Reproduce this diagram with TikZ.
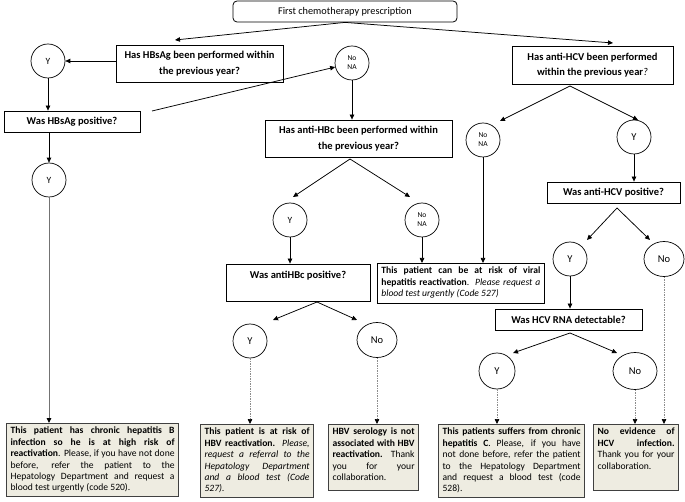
\documentclass[tikz,border=0pt]{standalone}
\usepackage{fontspec}
\setmainfont{Carlito}
\usetikzlibrary{arrows.meta,shapes.geometric}
\definecolor{finfill}{HTML}{EEECE1}
\definecolor{finline}{HTML}{404040}
\newcommand{\fintext}[3]{\parbox[c][#2][t]{#1}{\tolerance=10000\hyphenpenalty=10000\relax #3}}
\begin{document}
\begin{tikzpicture}[x=1pt,y=-1pt,
  q/.style={draw=black, line width=0.8pt, inner sep=0pt, align=center,
    font=\fontsize{10.5}{15.5}\selectfont\bfseries},
  circ/.style={draw=black, line width=0.7pt, circle, minimum size=34pt, inner sep=0pt,
    font=\fontsize{9.5}{11}\selectfont},
  bigy/.style={circ, font=\fontsize{10.5}{12}\selectfont},
  ell/.style={draw=black, line width=0.7pt, ellipse, minimum width=40pt, minimum height=35pt,
    inner sep=0pt, font=\fontsize{10.5}{12}\selectfont},
  nona/.style={circ, align=center, font=\fontsize{7.5}{9}\selectfont},
  fin/.style={draw=finline, line width=1.2pt, fill=finfill, inner xsep=4pt, inner ysep=3.5pt,
    anchor=north west, font=\fontsize{9.6}{11.4}\selectfont},
  riskbox/.style={draw=black, line width=0.8pt, fill=white, inner xsep=4pt, inner ysep=3.5pt,
    anchor=north west, font=\fontsize{9.6}{11.6}\selectfont},
  arr/.style={draw=black, line width=0.75pt, -{Triangle[length=5pt,width=4.5pt]}},
  solidgray/.style={draw=black!55, line width=0.9pt, -{Triangle[length=5pt,width=4.5pt,color=black]}},
  dsh/.style={draw=black!45, line width=0.7pt, dash pattern=on 1.5pt off 1pt,
    -{Triangle[length=5pt,width=4.5pt,color=black]}}
]
\useasboundingbox (0,0) rectangle (685,502);
\fill[white] (0,0) rectangle (685,502);

% question boxes
\node[q, rounded corners=4pt, font=\fontsize{10.3}{12}\selectfont, minimum width=224pt, minimum height=21pt] (top) at (345,11.5) {First chemotherapy prescription};
\node[q, minimum width=167pt, minimum height=37pt] (hbs) at (199.5,63.5) {Has HBsAg been performed within\\the previous year?};
\node[q, minimum width=161pt, minimum height=38pt] (hcv) at (592.5,65) {Has anti-HCV been performed\\within the previous year\textnormal{\itshape ?}};
\node[q, minimum width=136pt, minimum height=21pt] (whbs) at (72,121.5) {Was HBsAg positive?};
\node[q, minimum width=187pt, minimum height=37pt] (hbc) at (358.5,138.5) {Has anti-HBc been performed within\\the previous year?};
\node[q, minimum width=144pt, minimum height=37pt] (whbc) at (298,282.5) {Was antiHBc positive?\\\mbox{}};
\node[q, minimum width=133pt, minimum height=21pt] (whcv) at (613.5,192.5) {Was anti-HCV positive?};
\node[q, minimum width=147pt, minimum height=21pt] (rna) at (568.5,319.5) {Was HCV RNA detectable?};

% circles
\node[circ] (y1) at (48,61) {Y};
\node[nona] (nn1) at (352,63) {No\\NA};
\node[circ] (y2) at (49,180) {Y};
\node[circ] (y3) at (290,220) {Y};
\node[nona] (nn2) at (422,220) {No\\NA};
\node[nona] (nn3) at (483,140) {No\\NA};
\node[bigy] (y4) at (634,137) {Y};
\node[bigy] (y5) at (570,259) {Y};
\node[ell] (n5) at (664,259) {No};
\node[bigy, minimum size=36pt] (y6) at (497,371) {Y};
\node[ell, minimum width=44pt, minimum height=37pt] (n6) at (635,371) {No};
\node[bigy] (y7) at (250,341) {Y};
\node[ell] (n7) at (377,340) {No};

% risk box
\node[riskbox] (risk) at (377,263) {\fintext{159pt}{33pt}{\textbf{This patient can be at risk of viral\linebreak hepatitis reactivation}. \textit{Please request a\linebreak blood test urgently (Code 527)}}};

% final boxes
\node[fin] (f1) at (6,423) {\fintext{164pt}{66pt}{\textbf{This patient has chronic hepatitis B\linebreak infection so he is at high risk of\linebreak reactivation}. Please, if you have not done\linebreak before, refer the patient to the\linebreak Hepatology Department and request a\linebreak blood test urgently (code 520).}};
\node[fin] (f2) at (200,424) {\fintext{105pt}{66pt}{\textbf{This patient is at risk of\linebreak HBV reactivation.} \textit{Please,\linebreak request a referral to the\linebreak Hepatology Department\linebreak and a blood test (Code\linebreak 527).}}};
\node[fin] (f3) at (328,424) {\fintext{82pt}{59pt}{\textbf{HBV serology is not\linebreak associated with HBV\linebreak reactivation.} Thank\linebreak you for your\linebreak collaboration.}};
\node[fin] (f4) at (438,424) {\fintext{138pt}{66pt}{\textbf{This patients suffers from chronic\linebreak hepatitis C}. Please, if you have\linebreak not done before, refer the patient\linebreak to the Hepatology Department\linebreak and request a blood test (code\linebreak 528).}};
\node[fin] (f5) at (593,424) {\fintext{77pt}{59pt}{\textbf{No evidence of\linebreak HCV infection.}\linebreak Thank you for your\linebreak collaboration.}};

% helper coordinates
\coordinate (t1) at (175,40);
\coordinate (t2) at (613,43);
\coordinate (s1) at (152,111);
\coordinate (p1) at (350,159);
\coordinate (p1l) at (293,197);
\coordinate (p1r) at (410,197);
\coordinate (p2) at (317,302);
\coordinate (p2l) at (273,320);
\coordinate (p2r) at (357,320);
\coordinate (p3) at (570,86);
\coordinate (p3l) at (500,121);
\coordinate (p3r) at (638,120);
\coordinate (p4) at (617,208);
\coordinate (p4l) at (587,240);
\coordinate (p4r) at (650,240);
\coordinate (p5) at (570,333);
\coordinate (p5l) at (513,353);
\coordinate (p5r) at (617,353);

% connectors
\draw[arr] (top.south) -- (t1);
\draw[arr] (top.south) -- (t2);
\draw[arr] (hbs.west |- y1) -- (y1);
\draw[arr] (y1) -- (y1 |- whbs.north);
\draw[arr] (s1) -- (nn1);
\draw[arr] (whbs.south -| y2) -- (y2);
\draw[solidgray] (y2) -- (y2 |- f1.north);
\draw[arr] (nn1) -- (nn1 |- hbc.north);
\draw[arr] (p1) -- (p1l);
\draw[arr] (p1) -- (p1r);
\draw[arr] (y3) -- (y3 |- whbc.north);
\draw[arr] (nn2) -- (nn2 |- risk.north);
\draw[arr] (p2) -- (p2l);
\draw[arr] (p2) -- (p2r);
\draw[dsh] (y7) -- (y7 |- f2.north);
\draw[dsh] (n7) -- (n7 |- f3.north);
\draw[arr] (p3) -- (p3l);
\draw[arr] (p3) -- (p3r);
\draw[arr] (nn3) -- (nn3 |- risk.north);
\draw[arr] (y4) -- (y4 |- whcv.north);
\draw[arr] (p4) -- (p4l);
\draw[arr] (p4) -- (p4r);
\draw[arr] (y5) -- (y5 |- rna.north);
\draw[arr] (p5) -- (p5l);
\draw[arr] (p5) -- (p5r);
\draw[dsh] (y6) -- (y6 |- f4.north);
\draw[dsh] (n6) -- (n6 |- f5.north);
\draw[dsh] (n5) -- (n5 |- f5.north);
\end{tikzpicture}
\end{document}
